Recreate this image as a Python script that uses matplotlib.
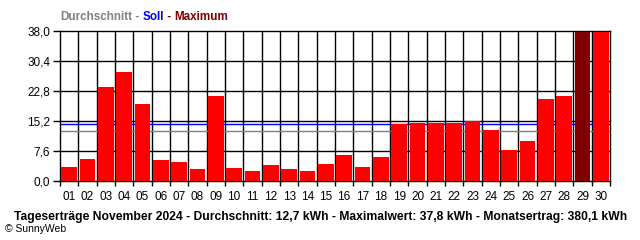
import matplotlib
matplotlib.use("Agg")
import matplotlib.pyplot as plt
import numpy as np

days = ["%02d" % d for d in range(1, 31)]
yields = [3.5, 5.6, 23.8, 27.7, 19.5, 5.3, 4.8, 3.0, 21.6, 3.3,
          2.5, 4.0, 3.0, 2.5, 4.3, 6.6, 3.5, 6.1, 14.4, 14.8,
          14.8, 14.8, 15.1, 12.9, 7.8, 10.1, 20.8, 21.6, 37.8, 37.7]
avg_value = 12.7
soll_value = 14.4
yticks = [0.0, 7.6, 15.2, 22.8, 30.4, 38.0]
footer = ("Tageserträge November 2024 - Durchschnitt: 12,7 kWh - "
          "Maximalwert: 37,8 kWh - Monatsertrag: 380,1 kWh")

plt.rcParams["font.family"] = ["Liberation Sans", "DejaVu Sans"]

W, H = 640, 240
fig = plt.figure(figsize=(W / 100, H / 100), dpi=100)
ax = fig.add_axes([60 / W, 1 - 181 / H, 550 / W, 150 / H])
renderer = fig.canvas.get_renderer()


def fit_text(t, target_px):
    # scale font size so the text spans the wanted width
    bb = t.get_window_extent(renderer)
    t.set_fontsize(t.get_fontsize() * target_px / bb.width)


x = np.arange(len(days))
max_idx = int(np.argmax(yields))
colors = ["#800000" if i == max_idx else "#ff0000" for i in range(len(days))]
ax.bar(x, yields, width=0.85, color=colors, zorder=3)

ax.axhline(soll_value, color="#0000ff", lw=1, zorder=2)
ax.axhline(avg_value, color="#808080", lw=1, zorder=2)

ax.set_xlim(-0.5, len(days) - 0.5)
ax.set_ylim(0, 38)
ax.set_yticks(yticks)
ax.set_yticklabels([("%.1f" % v).replace(".", ",") for v in yticks], fontsize=8.5)
ax.set_xticks(x)
ax.set_xticklabels(days, fontsize=8.5)
ax.tick_params(axis="x", length=0, pad=7)
ax.tick_params(axis="y", length=5, width=1, pad=2)
for v in yticks[1:-1]:
    ax.axhline(v, color="black", lw=1, zorder=1)
for b in x[1:] - 0.5:
    ax.axvline(b, color="black", lw=1, zorder=1)
# tick marks below the axis at every day boundary
trans = ax.get_xaxis_transform()
for b in np.append(x - 0.5, x[-1] + 0.5):
    ax.plot([b, b], [0, -5 / 150], color="black", lw=1, transform=trans,
            clip_on=False, solid_capstyle="butt")
for s in ax.spines.values():
    s.set_color("black")
    s.set_linewidth(1)

# header in several colours
parts = [("Durchschnitt", "#808080"), (" - ", "#808080"), ("Soll", "#0000ff"),
         (" - ", "#800000"), ("Maximum", "#800000")]
probe = fig.text(0, 0, "".join(p[0] for p in parts), fontsize=9, fontweight="bold")
fit_text(probe, 168)
hsize = probe.get_fontsize()
probe.remove()
xpos = 60 / W
for txt, col in parts:
    t = fig.text(xpos, 1 - 17 / H, txt, color=col, fontsize=hsize, fontweight="bold",
                 va="center", ha="left")
    xpos += t.get_window_extent(renderer).width / W

ft = fig.text(0.5 + 0.5 / W, 1 - 217 / H, footer, fontsize=8, fontweight="bold",
              ha="center", va="center")
fit_text(ft, 615)
fig.text(5 / W, 1 - 229 / H, "© SunnyWeb", fontsize=7.5, ha="left", va="center")

fig.savefig("out.png", dpi=100)
